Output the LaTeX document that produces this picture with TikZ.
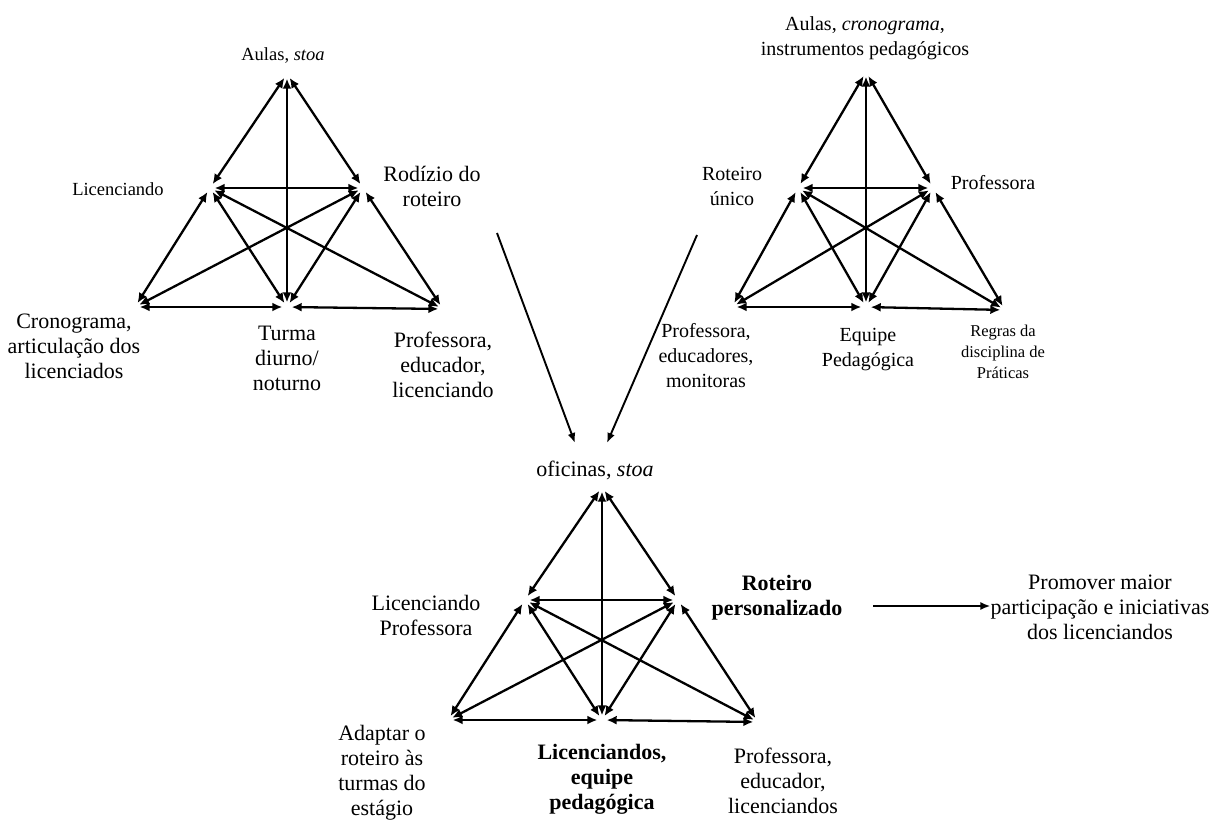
\documentclass[tikz,border=0pt]{standalone}
\usepackage{fontspec}
\setmainfont{Liberation Serif}
\usepackage{tikz}
\usetikzlibrary{arrows.meta}

\begin{document}
\begin{tikzpicture}[x=1pt, y=-1pt,
  vtx/.style={circle, inner sep=0pt, minimum size=9pt},
  link/.style={draw, line width=2.3pt, {Latex[length=10pt,width=9pt]}-{Latex[length=10pt,width=9pt]}},
  flow/.style={draw, line width=1.9pt, -{Latex[length=10pt,width=8pt]}},
  lbl/.style={align=center, inner sep=1pt, font=\fontsize{22}{25}\selectfont},
  lblsmall/.style={lbl, font=\fontsize{18.5}{22}\selectfont},
  lblmid/.style={lbl, font=\fontsize{20}{25}\selectfont}]
  \useasboundingbox (0,0) rectangle (1215,819);

  % first system
  \node[vtx] (inst1) at (287,74) {};
  \node[vtx] (suj1) at (210,188) {};
  \node[vtx] (obj1) at (363,188) {};
  \node[vtx] (reg1) at (135,307) {};
  \node[vtx] (com1) at (287,307) {};
  \node[vtx] (div1) at (443,309) {};
  \node[lblsmall] (inst1-txt) at (283,56) {Aulas, \textit{stoa}};
  \node[lblsmall] (suj1-txt) at (118,189) {Licenciando};
  \node[lbl] (obj1-txt) at (432,186) {Rodízio do\\roteiro};
  \node[lbl] (reg1-txt) at (74,346) {Cronograma,\\articulação dos\\licenciados};
  \node[lbl] (com1-txt) at (287,358) {Turma\\diurno/\\noturno};
  \node[lbl] (div1-txt) at (443,365) {Professora,\\educador,\\licenciando};
  \path[every edge/.style=link]
    (inst1) edge (suj1) edge (obj1) edge (com1)
    (suj1) edge (obj1) edge (reg1) edge (com1) edge (div1)
    (obj1) edge (reg1) edge (com1) edge (div1)
    (com1) edge (reg1) edge (div1);

  % second system
  \node[vtx] (inst2) at (866,72) {};
  \node[vtx] (suj2) at (798,188) {};
  \node[vtx] (obj2) at (933,188) {};
  \node[vtx] (reg2) at (732,307) {};
  \node[vtx] (com2) at (866,307) {};
  \node[vtx] (div2) at (1005,310) {};
  \node[lblmid] (inst2-txt) at (865,38) {Aulas, \textit{cronograma},\\instrumentos pedagógicos};
  \node[lblmid] (suj2-txt) at (732,186) {Roteiro\\único};
  \node[lblmid] (obj2-txt) at (993,183) {Professora};
  \node[lblmid] (reg2-txt) at (706,356) {Professora,\\educadores,\\monitoras};
  \node[lblmid] (com2-txt) at (868,350) {Equipe\\Pedagógica};
  \node[lbl, font=\fontsize{16.5}{21}\selectfont] (div2-txt) at (1003,352) {Regras da\\disciplina de\\Práticas};
  \path[every edge/.style=link]
    (inst2) edge (suj2) edge (obj2) edge (com2)
    (suj2) edge (obj2) edge (reg2) edge (com2) edge (div2)
    (obj2) edge (reg2) edge (com2) edge (div2)
    (com2) edge (reg2) edge (div2);

  % new system
  \node[vtx] (inst3) at (602,487) {};
  \node[vtx] (suj3) at (525,600) {};
  \node[vtx] (obj3) at (678,600) {};
  \node[vtx] (reg3) at (448,720) {};
  \node[vtx] (com3) at (602,720) {};
  \node[vtx] (div3) at (758,722) {};
  \node[lbl] (inst3-txt) at (595,470) {oficinas, \textit{stoa}};
  \node[lbl] (suj3-txt) at (426,615) {Licenciando\\Professora};
  \node[lbl, font=\fontsize{22}{25}\selectfont\bfseries] (obj3-txt) at (777,598) {Roteiro\\personalizado};
  \node[lbl] (reg3-txt) at (382,773) {Adaptar o\\roteiro às\\turmas do\\estágio};
  \node[lbl, font=\fontsize{22}{25}\selectfont\bfseries] (com3-txt) at (602,779) {Licenciandos,\\equipe\\pedagógica};
  \node[lbl] (div3-txt) at (783,781) {Professora,\\educador,\\licenciandos};
  \path[every edge/.style=link]
    (inst3) edge (suj3) edge (obj3) edge (com3)
    (suj3) edge (obj3) edge (reg3) edge (com3) edge (div3)
    (obj3) edge (reg3) edge (com3) edge (div3)
    (com3) edge (reg3) edge (div3);

  % links between systems
  \coordinate (from1) at (497,233);
  \coordinate (to1) at (575,443);
  \coordinate (from2) at (697,235);
  \coordinate (to2) at (607,443);
  \draw[flow] (from1) -- (to1);
  \draw[flow] (from2) -- (to2);

  \node[lbl, inner sep=0pt] (promo) at (1100,607) {Promover maior\\participação e iniciativas\\dos licenciandos};
  \coordinate (promo-start) at (873,606);
  \draw[flow, line width=2.3pt] (promo-start) -- (promo-start -| promo.west);
\end{tikzpicture}
\end{document}
